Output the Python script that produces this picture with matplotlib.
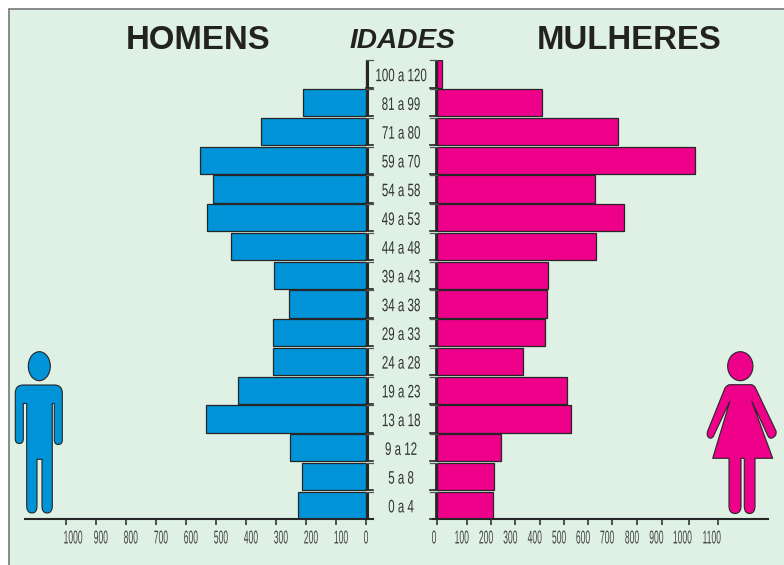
import numpy as np
import matplotlib
matplotlib.use('Agg')
import matplotlib.pyplot as plt
import matplotlib.patheffects as pe
from matplotlib.path import Path
from matplotlib.patches import PathPatch, Ellipse, Rectangle
from matplotlib.transforms import Affine2D, ScaledTranslation

plt.rcParams['font.family'] = ['Liberation Sans', 'DejaVu Sans']

#data, bottom row first
ages = ['0 a 4', '5 a 8', '9 a 12', '13 a 18', '19 a 23', '24 a 28', '29 a 33', '34 a 38',
        '39 a 43', '44 a 48', '49 a 53', '54 a 58', '59 a 70', '71 a 80', '81 a 99', '100 a 120']
men = [225, 213, 252, 532, 426, 311, 310, 255, 308, 448, 531, 509, 553, 350, 209, 0]
women = [208, 212, 240, 530, 512, 333, 422, 429, 436, 632, 747, 629, 1020, 724, 408, 19]
men_ticks = [1000, 900, 800, 700, 600, 500, 400, 300, 200, 100, 0]
women_ticks = [0, 100, 200, 300, 400, 500, 600, 700, 800, 900, 1000, 1100]

#the printed womens axis is not even: 0-100 is wider than the rest
scale_vals = women_ticks + [1300]
scale_px = [0, 30, 54.3, 78.3, 103, 127, 151.3, 175.3, 200.3, 225, 252.3, 281, 331.3]

#label nudges (px) relative to the ticks
men_label_dx = [7.3, 5, 5, 5, 5, 5, 5, 5, 5, 5, 0]
women_label_dx = [-2.7, -5, -5, -4.7, -5, -4.7, -5, -5, -5, -5.4, -6.7, -6]

W, H = 784, 565
BLUE = '#0093D8'
PINK = '#EE008A'
BG = '#DFF0E4'
DARK = '#262626'


#reshape the glyphs about their own centre, the original uses a very condensed face
class Condense(pe.AbstractPathEffect):
    def __init__(self, sx, sy=1):
        super().__init__()
        self.sx = sx
        self.sy = sy

    def draw_path(self, renderer, gc, tpath, affine, rgbFace=None):
        p = affine.transform_path(tpath)
        ext = p.get_extents()
        cx, cy = (ext.x0 + ext.x1) / 2, (ext.y0 + ext.y1) / 2
        t = Affine2D().translate(-cx, -cy).scale(self.sx, self.sy).translate(cx, cy)
        renderer.draw_path(gc, p, t, rgbFace)


def px_axes(fig, x0, x1, y_top, y_bottom):
    a = fig.add_axes([x0 / W, 1 - y_bottom / H, (x1 - x0) / W, (y_bottom - y_top) / H])
    a.patch.set_alpha(0)
    return a


def outline(parts):
    verts, codes = [], []
    for p in parts:
        if len(p) == 2:
            verts.append(p)
            codes.append(Path.LINETO if verts[:-1] else Path.MOVETO)
        else:
            verts += [p[:2], p[2:]]
            codes += [Path.CURVE3, Path.CURVE3]
    verts.append(verts[0])
    codes.append(Path.CLOSEPOLY)
    return Path(verts, codes)


fig = plt.figure(figsize=(W / 100, H / 100), dpi=100, facecolor='white')

#background panel and the two pictograms, in pixel coords
bg = fig.add_axes([0, 0, 1, 1])
bg.set_xlim(0, W)
bg.set_ylim(H, 0)
bg.axis('off')
bg.add_patch(Rectangle((9, 9), W, H, fc=BG, ec='#777777', lw=1.2))

man = outline([(15.3, 393), (15.3, 385, 23, 385), (54.5, 385), (62.3, 385, 62.3, 393), (62.3, 440),
               (62.3, 444.5, 58.3, 444.5), (54.3, 444.5, 54.3, 440), (54.3, 403.5), (52.3, 403.5),
               (52.3, 506), (52.3, 513, 47, 513), (42, 513, 42, 506), (42, 459.3), (37, 459.3), (37, 506),
               (37, 513, 32, 513), (26.7, 513, 26.7, 506), (26.7, 403.5), (23.3, 403.5), (23.3, 439),
               (23.3, 443.5, 19.3, 443.5), (15.3, 443.5, 15.3, 439)])
woman = outline([(725, 388), (727, 384.7, 730, 384.7), (751, 384.7), (754, 384.7, 755.5, 388), (776, 431),
                 (777, 436, 772, 438), (769, 439, 767.5, 435), (751.7, 401), (772.7, 458.3), (755, 458.3),
                 (755, 506), (755, 513.5, 749.5, 513.5), (744.3, 513.5, 744.3, 506), (744.3, 458.3),
                 (741, 458.3), (741, 506), (741, 513.5, 735, 513.5), (729, 513.5, 729, 506), (729, 458.3),
                 (712.7, 458.3), (730, 401), (714, 435), (712.5, 439, 709.5, 438), (706, 436, 707.7, 431)])
bg.add_patch(PathPatch(man, fc=BLUE, ec=DARK, lw=0.8))
bg.add_patch(Ellipse((39.3, 366.2), 22, 29, fc=BLUE, ec=DARK, lw=0.8))
bg.add_patch(PathPatch(woman, fc=PINK, ec=DARK, lw=0.8))
bg.add_patch(Ellipse((740.3, 366.2), 25.3, 29, fc=PINK, ec=DARK, lw=0.8))

bg.text(198.5, 40.5, 'HOMENS', fontsize=23.7, fontweight='bold', color='#222222', ha='center', va='center')
bg.text(629.5, 40.5, 'MULHERES', fontsize=23.7, fontweight='bold', color='#222222', ha='center', va='center')
bg.text(402, 40.5, 'IDADES', fontsize=20.2, fontweight='bold', fontstyle='italic', color='#222222',
        ha='center', va='center')

rows = np.arange(len(ages))
y_top, y_bottom = 59.7, 519
ylim = (-0.477, 15.5)
bar_h = 0.95

#men
ax_m = px_axes(fig, 25, 366, y_top, y_bottom)
ax_m.barh(rows, men, height=bar_h, color=BLUE, edgecolor=DARK, linewidth=0.9)
ax_m.set_xlim(341 / 0.3003, 0)
ax_m.set_ylim(*ylim)
ax_m.set_xticks(men_ticks)
ax_m.set_xticklabels([str(t) for t in men_ticks])

#women
ax_w = px_axes(fig, 436.7, 768, y_top, y_bottom)
ax_w.set_xscale('function', functions=(lambda v: np.interp(v, scale_vals, scale_px),
                                       lambda p: np.interp(p, scale_px, scale_vals)))
ax_w.barh(rows, women, height=bar_h, color=PINK, edgecolor=DARK, linewidth=0.9)
ax_w.set_xlim(0, 1300)
ax_w.set_ylim(*ylim)
ax_w.set_xticks(women_ticks)
ax_w.set_xticklabels([str(t) for t in women_ticks])

for a, dxs in [(ax_m, men_label_dx), (ax_w, women_label_dx)]:
    a.set_yticks([])
    for side in ['top', 'left', 'right']:
        a.spines[side].set_visible(False)
    a.spines['bottom'].set_linewidth(1.5)
    a.spines['bottom'].set_color(DARK)
    a.tick_params(axis='x', length=4.5, width=1.1, color=DARK, pad=5.5, labelsize=8, labelcolor='#444444')
    for lab, dx in zip(a.get_xticklabels(), dxs):
        lab.set_transform(lab.get_transform() + ScaledTranslation(dx / 100, 0, fig.dpi_scale_trans))
        lab.set_path_effects([Condense(0.77, 1.67)])

#middle column: brackets and age labels, x in pixels
ax_c = px_axes(fig, 366, 436.7, y_top, y_bottom)
ax_c.set_xlim(366, 436.7)
ax_c.set_ylim(*ylim)
ax_c.axis('off')
for r, age in zip(rows, ages):
    lo, hi = r - bar_h / 2, r + bar_h / 2
    ax_c.plot([367.3, 367.3], [lo, hi], color=DARK, lw=2.2, clip_on=False, solid_capstyle='butt')
    ax_c.plot([436, 436], [lo, hi], color=DARK, lw=2.0, clip_on=False, solid_capstyle='butt')
    ax_c.plot([366, 373], [hi, hi], color='#555555', lw=0.9, clip_on=False)
    ax_c.plot([366, 373], [lo, lo], color=DARK, lw=1.2, clip_on=False)
    ax_c.plot([430, 437], [hi, hi], color='#555555', lw=0.9, clip_on=False)
    ax_c.plot([430, 437], [lo, lo], color=DARK, lw=1.2, clip_on=False)
    ax_c.text(401, r - 0.09, age, fontsize=13, color='#333333', ha='center', va='center',
              path_effects=[Condense(0.64)])
#axis lines run on a little into the middle column
ax_c.plot([366, 372.5], [ylim[0], ylim[0]], color=DARK, lw=1.5, clip_on=False)
ax_c.plot([433, 437], [ylim[0], ylim[0]], color=DARK, lw=1.5, clip_on=False)

fig.savefig('out.png', dpi=100)
